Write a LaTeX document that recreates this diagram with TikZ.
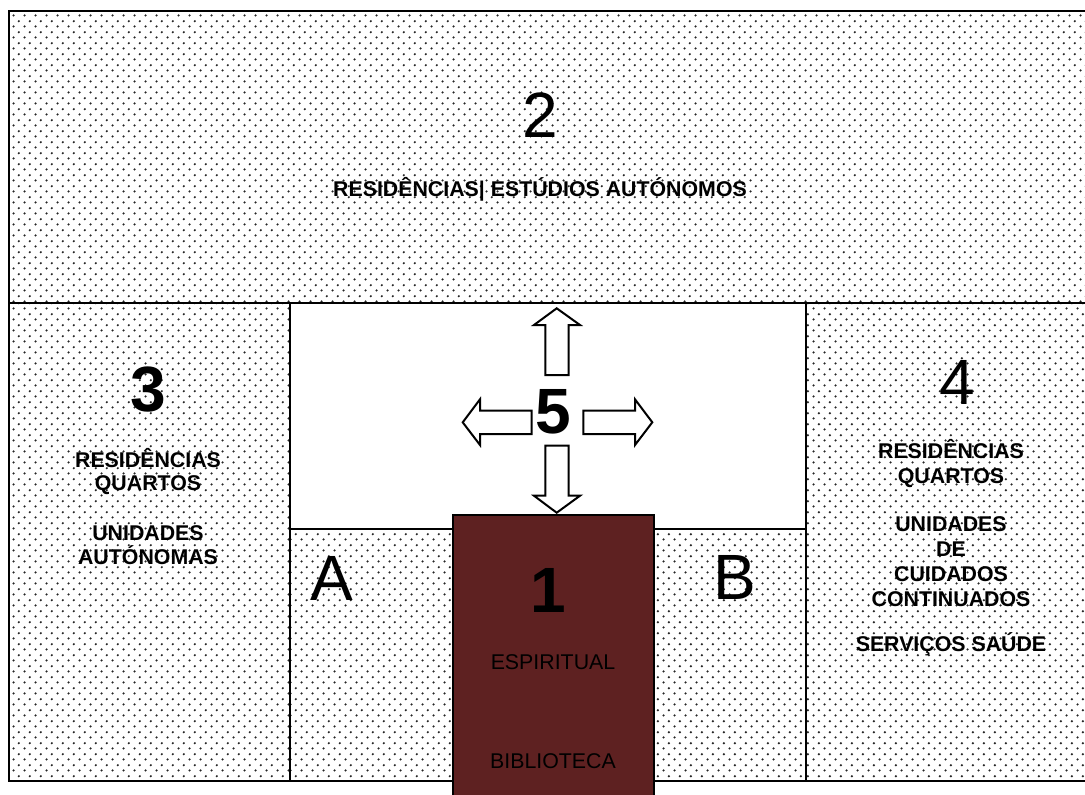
\documentclass[tikz,border=0pt]{standalone}
\usepackage{fontspec}
\setmainfont{Liberation Sans}
\usetikzlibrary{patterns}
\definecolor{brownbox}{RGB}{94,33,33}
\pgfdeclarepatternformonly{mydots}{\pgfpoint{0pt}{0pt}}{\pgfpoint{8pt}{8pt}}{\pgfpoint{8pt}{8pt}}{%
  \pgfpathcircle{\pgfpoint{2pt}{2pt}}{0.95pt}%
  \pgfpathcircle{\pgfpoint{6pt}{6pt}}{0.95pt}%
  \pgfusepath{fill}}
\tikzset{
  zone/.style={pattern=mydots, pattern color=black!85},
  wall/.style={draw=black, line width=1.5pt},
  big/.style={font=\fontsize{48}{52}\selectfont, inner sep=0pt, anchor=center},
  bigb/.style={font=\bfseries\fontsize{48}{52}\selectfont, inner sep=0pt, anchor=center},
  lbl/.style={font=\bfseries\fontsize{16}{19}\selectfont, inner sep=0pt, anchor=base},
  lblr/.style={font=\fontsize{16}{19}\selectfont, inner sep=0pt, anchor=base},
  blockarrow/.style={draw=black, fill=white, line width=1.5pt, line join=miter}
}
\begin{document}
\begin{tikzpicture}[x=0.75pt, y=-0.75pt]
\useasboundingbox (0,0) rectangle (1085,794);
% patterned zones
\fill[zone] (9,11) rectangle (1090,303);
\fill[zone] (9,303) rectangle (290,781);
\fill[zone] (806,303) rectangle (1090,781);
\fill[zone] (290,529) rectangle (453,781);
\fill[zone] (654,529) rectangle (806,781);
% walls
\draw[wall] (9,11) rectangle (1090,781);
\draw[wall] (9,303) -- (1090,303);
\draw[wall] (290,303) -- (290,781);
\draw[wall] (806,303) -- (806,781);
\draw[wall] (290,529) -- (806,529);
% building 1
\fill[brownbox] (453,515) rectangle (654,800);
\draw[wall] (453,800) -- (453,515) -- (654,515) -- (654,800);
% arrows
\draw[blockarrow] (545.3,375) -- (545.3,325) -- (534,325) -- (556.7,308.3) -- (580,325) -- (568.7,325) -- (568.7,375) -- cycle;
\draw[blockarrow] (545.3,445.7) -- (545.3,495.7) -- (534,495.7) -- (556.7,512.7) -- (580,495.7) -- (568.7,495.7) -- (568.7,445.7) -- cycle;
\draw[blockarrow] (531.7,410.7) -- (480,410.7) -- (480,399.3) -- (462.7,422.3) -- (480,445) -- (480,434) -- (531.7,434) -- cycle;
\draw[blockarrow] (583.3,410.7) -- (635,410.7) -- (635,399.3) -- (652.3,422.3) -- (635,445) -- (635,434) -- (583.3,434) -- cycle;
% big labels
\node[big] (n2) at (540,115) {2};
\node[bigb] (n3) at (148,390) {3};
\node[big] (n4) at (957,382) {4};
\node[bigb] (n5) at (553,412) {5};
\node[bigb] (n1) at (548,590) {1};
\node[big] (nA) at (332,578) {A};
\node[big] (nB) at (735,577) {B};
% zone 2 text
\node[lbl] (t2) at (540,196) {RESIDÊNCIAS| ESTÚDIOS AUTÓNOMOS};
% zone 3 text
\node[lbl] (t3a) at (148,467) {RESIDÊNCIAS};
\node[lbl] (t3b) at (148,490.7) {QUARTOS};
\node[lbl] (t3c) at (148,540) {UNIDADES};
\node[lbl] (t3d) at (148,564) {AUTÓNOMAS};
% zone 4 text
\node[lbl] (t4a) at (951,458.3) {RESIDÊNCIAS};
\node[lbl] (t4b) at (951,483.3) {QUARTOS};
\node[lbl] (t4c) at (951,531.7) {UNIDADES};
\node[lbl] (t4d) at (951,556.7) {DE};
\node[lbl] (t4e) at (951,581.7) {CUIDADOS};
\node[lbl] (t4f) at (951,606) {CONTINUADOS};
\node[lbl] (t4g) at (951,651.7) {SERVIÇOS SAÚDE};
% zone 1 text
\node[lblr] (t1a) at (553,669) {ESPIRITUAL};
\node[lblr] (t1b) at (553,768) {BIBLIOTECA};
\end{tikzpicture}
\end{document}
